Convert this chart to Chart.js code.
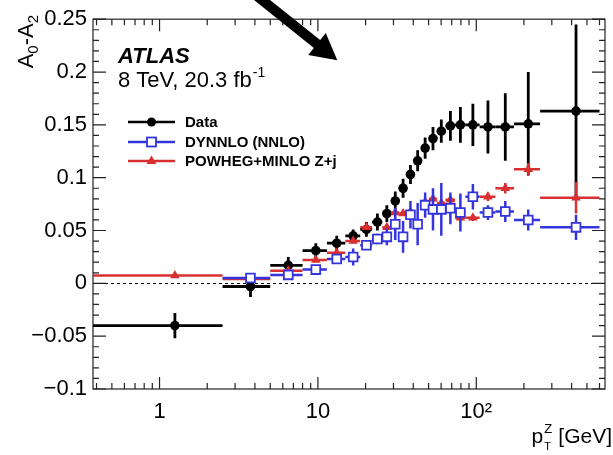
<!DOCTYPE html>
<html>
<head>
<meta charset="utf-8">
<script src="https://cdn.jsdelivr.net/npm/chart.js@4.4.1/dist/chart.umd.min.js"></script>
<style>
  body { margin: 0; background: #fff; }
  canvas { display: block; }
</style>
</head>
<body>
<canvas id="myChart" width="613" height="455"></canvas>
<script>
// pT bins (GeV)
const binEdges = [0, 2.5, 5, 8, 11.4, 14.9, 18.5, 22, 25.5, 29, 32.6, 36.4, 40.4, 44.9, 50.2, 56.4, 63.9, 73.4, 85.4, 105, 132, 173, 253, 600];
const binCenters = [1.25, 3.75, 6.5, 9.7, 13.15, 16.7, 20.25, 23.75, 27.25, 30.8, 34.5, 38.4, 42.65, 47.55, 53.3, 60.15, 68.65, 79.4, 95.2, 118.5, 152.5, 213, 426.5];

// measured A0-A2
const dataVals = [-0.040, -0.003, 0.017, 0.031, 0.038, 0.045, 0.051, 0.058, 0.066, 0.078, 0.090, 0.103, 0.116, 0.128, 0.137, 0.144, 0.149, 0.150, 0.150, 0.148, 0.148, 0.151, 0.163];
const dataErr = [0.012, 0.010, 0.008, 0.007, 0.007, 0.006, 0.007, 0.008, 0.008, 0.009, 0.009, 0.009, 0.010, 0.010, 0.011, 0.011, 0.014, 0.017, 0.020, 0.025, 0.032, 0.049, 0.082];

// DYNNLO (NNLO)
const dynnloVals = [null, 0.005, 0.008, 0.013, 0.023, 0.025, 0.036, 0.042, 0.044, 0.056, 0.044, 0.065, 0.056, 0.074, 0.070, 0.070, 0.071, 0.067, 0.082, 0.067, 0.068, 0.060, 0.053];
const dynnloErr = [0, 0.002, 0.002, 0.003, 0.003, 0.008, 0.003, 0.005, 0.008, 0.015, 0.015, 0.013, 0.020, 0.012, 0.020, 0.025, 0.015, 0.018, 0.012, 0.007, 0.010, 0.010, 0.012];

// POWHEG+MINLO Z+j
const powhegVals = [0.0075, 0.004, 0.012, 0.022, 0.029, 0.040, 0.053, 0.041, 0.053, 0.067, 0.066, 0.068, 0.057, 0.077, 0.080, 0.076, 0.079, 0.062, 0.062, 0.082, 0.090, 0.108, 0.081];
const powhegErr = [0.001, 0.001, 0.001, 0.001, 0.002, 0.002, 0.002, 0.002, 0.002, 0.002, 0.002, 0.002, 0.003, 0.003, 0.003, 0.003, 0.003, 0.003, 0.003, 0.004, 0.005, 0.006, 0.015];

const xTicks = [1, 10, 100];
const xTickLabels = ['1', '10', '10²'];

const FONT = 'Liberation Sans, Arial, Helvetica, sans-serif';
const BLUE = '#3434dc';
const RED = '#d83030';

function toPoints(vals) {
    const pts = [];
    for (let i = 0; i < vals.length; i++) {
        if (vals[i] !== null) pts.push({ x: binCenters[i], y: vals[i] });
    }
    return pts;
}

// error bars: horizontal = bin width, vertical = uncertainty
const errorBars = {
    id: 'errorBars',
    beforeDatasetDraw(chart, args) {
        const ds = chart.data.datasets[args.index];
        const xs = chart.scales.x, ys = chart.scales.y;
        const ctx = chart.ctx;
        const a = chart.chartArea;
        ctx.save();
        ctx.beginPath();
        ctx.rect(a.left, a.top, a.right - a.left, a.bottom - a.top);
        ctx.clip();
        ctx.strokeStyle = ds.borderColor;
        ctx.lineWidth = ds.barWidth;
        for (let i = 0; i < ds.vals.length; i++) {
            const v = ds.vals[i];
            if (v === null) continue;
            const y = ys.getPixelForValue(v);
            const x1 = xs.getPixelForValue(Math.max(binEdges[i], xs.min));
            const x2 = xs.getPixelForValue(binEdges[i + 1]);
            const xc = xs.getPixelForValue(binCenters[i]);
            ctx.beginPath();
            ctx.moveTo(x1, y);
            ctx.lineTo(x2, y);
            if (ds.errs[i] > 0) {
                ctx.moveTo(xc, ys.getPixelForValue(v - ds.errs[i]));
                ctx.lineTo(xc, ys.getPixelForValue(v + ds.errs[i]));
            }
            ctx.stroke();
        }
        ctx.restore();
    }
};

// frame, inward ticks, dashed zero line
const frame = {
    id: 'frame',
    beforeDatasetsDraw(chart) {
        const ctx = chart.ctx;
        const a = chart.chartArea;
        const xs = chart.scales.x, ys = chart.scales.y;
        ctx.save();

        // zero line
        ctx.strokeStyle = '#000';
        ctx.lineWidth = 1;
        ctx.setLineDash([3, 3]);
        const y0 = Math.round(ys.getPixelForValue(0)) + 0.5;
        ctx.beginPath();
        ctx.moveTo(a.left, y0);
        ctx.lineTo(a.right, y0);
        ctx.stroke();
        ctx.setLineDash([]);

        ctx.strokeStyle = '#222';
        ctx.lineWidth = 1.2;
        ctx.strokeRect(a.left, a.top, a.right - a.left, a.bottom - a.top);

        ctx.beginPath();
        // y ticks every 0.01, major every 0.05
        for (let k = -10; k <= 25; k++) {
            const y = ys.getPixelForValue(k / 100);
            const len = (k % 5 === 0) ? 13 : 6;
            ctx.moveTo(a.left, y); ctx.lineTo(a.left + len, y);
            ctx.moveTo(a.right, y); ctx.lineTo(a.right - len, y);
        }
        // log x ticks
        for (let d = 0.1; d <= 1000; d *= 10) {
            for (let m = 1; m <= 9; m++) {
                const v = m * d;
                if (v < xs.min || v > xs.max) continue;
                const x = xs.getPixelForValue(v);
                const len = (m === 1) ? 12 : 6;
                ctx.moveTo(x, a.bottom); ctx.lineTo(x, a.bottom - len);
                ctx.moveTo(x, a.top); ctx.lineTo(x, a.top + len);
            }
        }
        ctx.stroke();
        ctx.restore();
    }
};

// legend, labels, titles and the arrow
const extras = {
    id: 'extras',
    afterDraw(chart) {
        const ctx = chart.ctx;
        ctx.save();
        ctx.fillStyle = '#000';
        ctx.textBaseline = 'alphabetic';

        ctx.font = 'italic bold 22px ' + FONT;
        ctx.fillText('ATLAS', 118, 63);
        ctx.font = '22px ' + FONT;
        ctx.fillText('8 TeV, 20.3 fb', 118, 87);
        let w = ctx.measureText('8 TeV, 20.3 fb').width;
        ctx.font = '14px ' + FONT;
        ctx.fillText('-1', 118 + w + 1, 77);

        // legend
        const rows = [
            { label: 'Data', color: '#000', style: 'circle', y: 122 },
            { label: 'DYNNLO (NNLO)', color: BLUE, style: 'rect', y: 142 },
            { label: 'POWHEG+MINLO Z+j', color: RED, style: 'triangle', y: 161 }
        ];
        rows.forEach(r => {
            ctx.strokeStyle = r.color;
            ctx.fillStyle = r.color;
            ctx.lineWidth = 2.5;
            ctx.beginPath();
            ctx.moveTo(128, r.y);
            ctx.lineTo(175, r.y);
            ctx.stroke();
            const cx = 151.5;
            if (r.style === 'circle') {
                ctx.beginPath();
                ctx.arc(cx, r.y, 4.5, 0, Math.PI * 2);
                ctx.fill();
            } else if (r.style === 'rect') {
                ctx.fillStyle = '#fff';
                ctx.lineWidth = 1.8;
                ctx.fillRect(cx - 4.5, r.y - 4.5, 9, 9);
                ctx.strokeRect(cx - 4.5, r.y - 4.5, 9, 9);
            } else {
                ctx.beginPath();
                ctx.moveTo(cx, r.y - 5.5);
                ctx.lineTo(cx + 5, r.y + 3);
                ctx.lineTo(cx - 5, r.y + 3);
                ctx.closePath();
                ctx.fill();
            }
            ctx.fillStyle = '#000';
            ctx.font = 'bold 15px ' + FONT;
            ctx.textBaseline = 'middle';
            ctx.fillText(r.label, 185, r.y + 1);
            ctx.textBaseline = 'alphabetic';
        });

        // y title A0-A2
        ctx.save();
        ctx.translate(33, 15);
        ctx.rotate(-Math.PI / 2);
        const parts = [['A', 22, 0], ['0', 15, 5], ['-A', 22, 0], ['2', 15, 5]];
        let total = 0;
        parts.forEach(p => { ctx.font = p[1] + 'px ' + FONT; total += ctx.measureText(p[0]).width; });
        let px = -total;
        parts.forEach(p => {
            ctx.font = p[1] + 'px ' + FONT;
            ctx.fillText(p[0], px, p[2]);
            px += ctx.measureText(p[0]).width;
        });
        ctx.restore();

        // x title pT^Z [GeV]
        ctx.font = '21px ' + FONT;
        const rest = ' [GeV]';
        const restW = ctx.measureText(rest).width;
        const pW = ctx.measureText('p').width;
        ctx.font = '12px ' + FONT;
        const subW = ctx.measureText('Z').width;
        let xStart = 612 - restW - subW - 2 - pW;
        ctx.font = '21px ' + FONT;
        ctx.fillText('p', xStart, 443);
        ctx.font = '11px ' + FONT;
        ctx.fillText('T', xStart + pW + 1, 450);
        ctx.font = '13px ' + FONT;
        ctx.fillText('Z', xStart + pW + 1, 433);
        ctx.font = '21px ' + FONT;
        ctx.fillText(rest, xStart + pW + subW + 2, 443);

        // arrow
        const ux = 0.781, uy = 0.625;
        const nx = -0.625, ny = 0.781;
        const bx = 317, by = 44;
        ctx.strokeStyle = '#000';
        ctx.lineWidth = 10;
        ctx.beginPath();
        ctx.moveTo(bx - 90 * ux, by - 90 * uy);
        ctx.lineTo(bx + 2 * ux, by + 2 * uy);
        ctx.stroke();
        ctx.beginPath();
        ctx.moveTo(bx + 26 * ux, by + 26 * uy);
        ctx.lineTo(bx + 14 * nx, by + 14 * ny);
        ctx.lineTo(bx - 14 * nx, by - 14 * ny);
        ctx.closePath();
        ctx.fill();

        ctx.restore();
    }
};

const ctx = document.getElementById('myChart').getContext('2d');
const myChart = new Chart(ctx, {
    type: 'scatter',
    data: {
        datasets: [
            {
                label: 'DYNNLO (NNLO)',
                data: toPoints(dynnloVals),
                vals: dynnloVals, errs: dynnloErr, barWidth: 2.5,
                borderColor: BLUE,
                backgroundColor: '#fff',
                pointStyle: 'rect',
                pointRadius: 6.2,
                pointBorderWidth: 1.8,
                order: 0
            },
            {
                label: 'POWHEG+MINLO Z+j',
                data: toPoints(powhegVals),
                vals: powhegVals, errs: powhegErr, barWidth: 2.5,
                borderColor: RED,
                backgroundColor: RED,
                pointStyle: 'triangle',
                pointRadius: 5.5,
                pointBorderWidth: 0,
                order: 1
            },
            {
                label: 'Data',
                data: toPoints(dataVals),
                vals: dataVals, errs: dataErr, barWidth: 2.8,
                borderColor: '#000',
                backgroundColor: '#000',
                pointStyle: 'circle',
                pointRadius: 4.8,
                pointBorderWidth: 0,
                order: 2
            }
        ]
    },
    options: {
        responsive: false,
        animation: false,
        devicePixelRatio: 1,
        layout: { padding: { top: 17, right: 1, left: 0, bottom: 0 } },
        plugins: {
            legend: { display: false },
            tooltip: { enabled: false }
        },
        scales: {
            x: {
                type: 'logarithmic',
                min: 0.38,
                max: 650,
                grid: { display: false, drawTicks: false },
                border: { display: false },
                afterBuildTicks: (scale) => { scale.ticks = xTicks.map(v => ({ value: v })); },
                afterFit: (scale) => { scale.height = 66; },
                ticks: {
                    autoSkip: false,
                    maxRotation: 0,
                    padding: 10,
                    color: '#000',
                    font: { family: FONT, size: 22 },
                    callback: (v) => xTickLabels[xTicks.indexOf(v)]
                }
            },
            y: {
                min: -0.1,
                max: 0.25,
                grid: { display: false, drawTicks: false },
                border: { display: false },
                afterFit: (scale) => { scale.width = 93; },
                ticks: {
                    stepSize: 0.05,
                    padding: 6,
                    color: '#000',
                    font: { family: FONT, size: 22 },
                    callback: (v) => String(+v.toFixed(2)).replace('-', '−')
                }
            }
        }
    },
    plugins: [frame, errorBars, extras]
});
</script>
</body>
</html>
